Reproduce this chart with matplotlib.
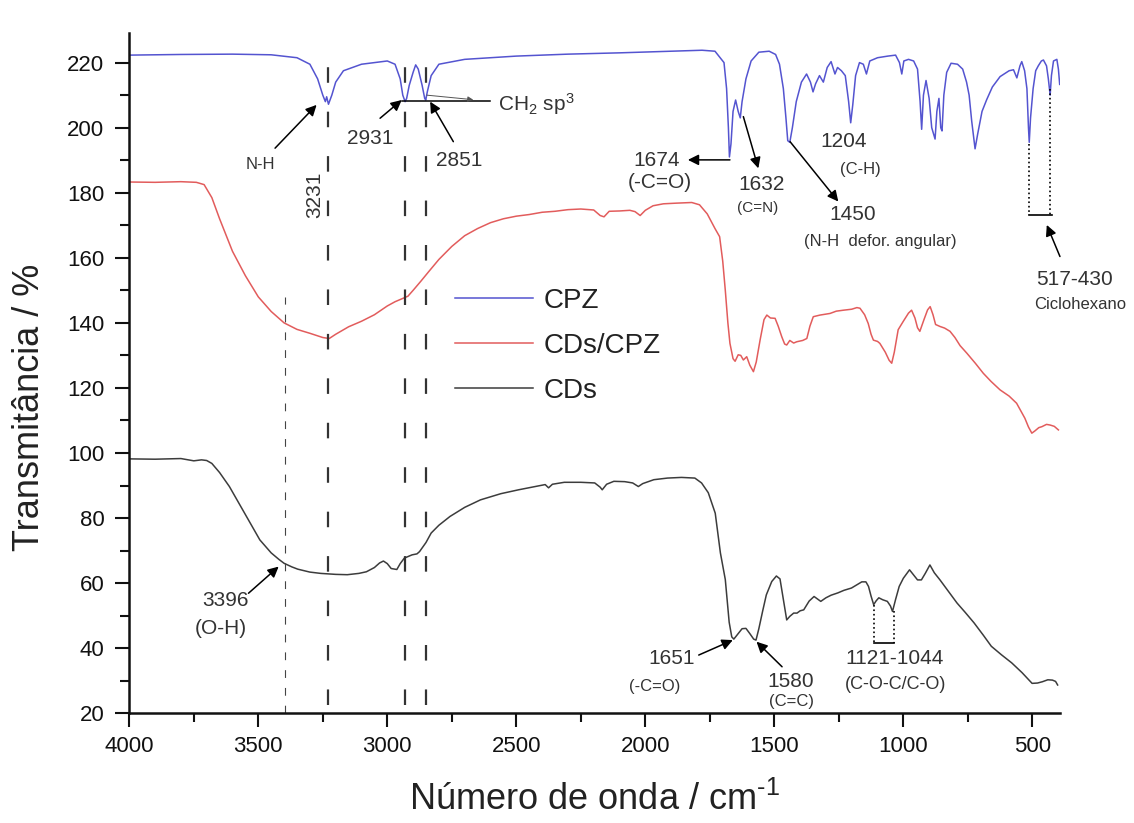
import matplotlib
matplotlib.use("Agg")
import matplotlib.pyplot as plt
import numpy as np

plt.rcParams['font.family'] = ['Liberation Sans', 'DejaVu Sans']
plt.rcParams['mathtext.fontset'] = 'custom'
plt.rcParams['mathtext.rm'] = 'Liberation Sans'
plt.rcParams['mathtext.it'] = 'Liberation Sans'
plt.rcParams['mathtext.bf'] = 'Liberation Sans:bold'

# ---------------- data ----------------
cpz_wn = [4000, 3800, 3600, 3450, 3350, 3300, 3270, 3250, 3240, 3235, 3228, 3215, 3200, 3170, 3100,
          3000, 2970, 2950, 2940, 2931, 2925, 2915, 2900, 2890, 2880, 2865, 2855, 2851, 2845, 2830,
          2800, 2700, 2500, 2300, 2100, 1900, 1780, 1730, 1710, 1695, 1685, 1678, 1674, 1668, 1660,
          1650, 1640, 1632, 1625, 1610, 1590, 1560, 1520, 1495, 1480, 1465, 1455, 1448, 1440, 1430,
          1415, 1395, 1375, 1360, 1350, 1340, 1325, 1310, 1295, 1280, 1265, 1255, 1240, 1225, 1212,
          1204, 1196, 1185, 1170, 1155, 1143, 1130, 1100, 1060, 1030, 1015, 1006, 998, 980, 960,
          945, 935, 929, 922, 912, 900, 890, 877, 870, 862, 855, 850, 843, 832, 815,
          790, 770, 755, 745, 735, 722, 712, 695, 677, 655, 625, 590, 573, 560, 548,
          541, 530, 521, 515, 512, 507, 497, 487, 477, 465, 457, 445, 438, 431, 426,
          418, 405, 399, 394]
cpz_t = [222.3, 222.5, 222.6, 222.4, 221.5, 219.5, 215, 210, 208, 209.5, 207.2, 210, 214, 217.5, 219.5,
         220.5, 219.5, 215, 210, 208, 209, 213, 217, 219.3, 218, 213, 209, 208.5, 211, 216,
         219.5, 221, 222, 222.6, 223, 223.5, 223.8, 223.5, 221.5, 220, 212, 200, 191, 195, 205,
         208.5, 205, 203, 208, 215, 220.5, 223.2, 223.5, 222.5, 219.5, 212, 203, 196, 195.5, 200,
         208, 214, 216.5, 214, 211, 213.5, 216, 214, 218.5, 220.3, 216.5, 218.5, 217.5, 216, 208,
         201.5, 207, 216, 220, 219.5, 216.5, 220.5, 221.5, 222, 222.3, 220, 216.5, 220.5, 221, 220.5,
         218, 208, 199.5, 210, 214.5, 209, 200, 196.5, 205, 209, 200, 199, 210, 217, 219.8,
         219.5, 218, 214, 210, 202, 193.5, 198, 205, 208.6, 212.5, 215.7, 217.5, 217.8, 215.3, 219,
         220.3, 217.5, 212, 200, 195.5, 203, 212, 217.5, 219, 220.5, 220.8, 219, 215, 210, 216,
         220.5, 221, 218, 213.3]

cdscpz_wn = [4000, 3900, 3800, 3740, 3710, 3680, 3650, 3600, 3550, 3500, 3450, 3400, 3350, 3300, 3250,
             3225, 3200, 3150, 3100, 3050, 3000, 2970, 2940, 2920, 2900, 2870, 2840, 2800, 2750, 2700,
             2650, 2600, 2550, 2500, 2450, 2400, 2350, 2300, 2250, 2200, 2175, 2160, 2140, 2100, 2060,
             2040, 2020, 2000, 1970, 1930, 1880, 1820, 1790, 1760, 1730, 1712, 1700, 1690, 1680, 1672,
             1660, 1652, 1640, 1630, 1620, 1607, 1595, 1581, 1570, 1555, 1540, 1529, 1515, 1497, 1485,
             1471, 1460, 1452, 1440, 1425, 1413, 1390, 1374, 1362, 1349, 1323, 1300, 1284, 1260, 1232,
             1200, 1180, 1168, 1150, 1136, 1125, 1116, 1100, 1091, 1070, 1055, 1045, 1035, 1020, 1000,
             980, 968, 955, 945, 936, 920, 906, 896, 885, 875, 858, 840, 819, 800, 780,
             754, 720, 690, 660, 625, 590, 561, 545, 529, 515, 502, 490, 475, 463, 445,
             431, 415, 399]
cdscpz_t = [183.3, 183.2, 183.4, 183.2, 182.5, 178.5, 172, 162, 154.5, 148, 143.5, 140, 138, 136.8, 135.5,
            135.2, 136.5, 138.8, 140.5, 142.5, 145.2, 146.5, 147.5, 148.2, 150, 152.8, 155.7, 159.5, 163.5, 166.8,
            169, 170.8, 172, 172.8, 173.3, 174, 174.3, 174.8, 175, 174.7, 173, 172.6, 174.3, 174.4, 174.6,
            174.2, 173, 174.6, 176, 176.6, 176.8, 177, 176.3, 173.5, 169, 166.5, 159, 150, 140, 133.7,
            129, 128.2, 130.2, 130, 128.6, 129.6, 127, 125, 128, 134.8, 141, 142.4, 141.5, 141.4, 139,
            135.7, 133.5, 133.2, 134.6, 133.8, 134.2, 134.6, 135.2, 139, 141.9, 142.4, 142.7, 142.9, 143.6, 143.9,
            144.2, 144.7, 144.5, 142.5, 139.8, 136.5, 134.7, 134.3, 133.7, 131, 128.5, 127.6, 131, 137.9, 140.5,
            143, 143.9, 141.5, 138.5, 137.4, 141, 144, 145, 142.5, 139.5, 138.9, 138.4, 137.4, 135.5, 133,
            130.7, 127.5, 124.5, 122, 119.4, 117.5, 115.3, 113, 110.7, 108, 106.1, 106.8, 107.8, 108.1, 108.8,
            108.6, 108.2, 107.1]

cds_wn = [4000, 3900, 3800, 3750, 3720, 3700, 3680, 3650, 3612, 3553, 3494, 3450, 3420, 3400, 3370,
          3347, 3300, 3258, 3200, 3155, 3110, 3081, 3050, 3030, 3015, 3000, 2985, 2963, 2950, 2934,
          2904, 2885, 2875, 2850, 2830, 2800, 2757, 2700, 2639, 2560, 2491, 2420, 2388, 2375, 2360,
          2314, 2250, 2196, 2175, 2167, 2150, 2122, 2080, 2049, 2027, 2010, 1967, 1914, 1860, 1808,
          1782, 1756, 1729, 1709, 1690, 1675, 1665, 1657, 1640, 1625, 1610, 1595, 1580, 1571, 1560,
          1545, 1531, 1510, 1492, 1478, 1465, 1452, 1440, 1425, 1412, 1400, 1386, 1365, 1346, 1330,
          1320, 1300, 1280, 1254, 1230, 1201, 1180, 1161, 1145, 1135, 1125, 1115, 1105, 1095, 1080,
          1062, 1050, 1042, 1030, 1016, 1000, 976, 955, 945, 930, 915, 897, 880, 858, 830,
          792, 760, 726, 690, 659, 620, 580, 540, 501, 480, 461, 440, 422, 410, 402]
cds_t = [98.2, 98.1, 98.3, 97.6, 97.9, 97.7, 96.8, 94, 89.7, 81.5, 73.3, 69.3, 67.3, 66.1, 65,
         64.3, 63.4, 63, 62.7, 62.6, 63, 63.5, 64.8, 66.2, 66.8, 66, 64.5, 64.2, 66, 67.7,
         68.7, 69, 69.7, 72.5, 75.4, 77.8, 80.5, 83.3, 85.6, 87.5, 88.7, 89.8, 90.3, 89.3, 90.4,
         91, 91, 90.8, 89.5, 88.7, 90.4, 91.3, 91.2, 90.8, 89.7, 90.6, 91.8, 92.3, 92.5, 92.3,
         90.8, 87.8, 81.5, 69.3, 61.1, 48, 43.5, 42.8, 44.5, 46, 46.1, 44.5, 42.8, 42.5, 46,
         51.5, 56.4, 60.5, 62.2, 61.3, 55, 48.7, 49.8, 50.8, 50.8, 51.5, 51.8, 54.5, 55.9, 55,
         54.4, 55.5, 56.3, 57, 57.8, 58.5, 59.5, 60.4, 60.4, 59, 56, 53.4, 54.6, 55.5, 54.9,
         54.4, 53, 51.3, 55, 59, 61.5, 64.1, 62, 61, 61, 63, 65.6, 63.2, 61, 58,
         53.9, 51, 47.8, 44, 40.6, 38, 35.5, 32.5, 29.2, 29.3, 29.7, 30.3, 30.2, 29.8, 28.7]

series_labels = ['CPZ', 'CDs/CPZ', 'CDs']
marked_bands = [3231, 2931, 2851]
oh_band = 3396
x_ticks = [4000, 3500, 3000, 2500, 2000, 1500, 1000, 500]
y_ticks = [20, 40, 60, 80, 100, 120, 140, 160, 180, 200, 220]

# ---------------- figure ----------------
fig = plt.figure(figsize=(11.34, 8.23), dpi=100)
ax = fig.add_axes([0.1140, 0.1333, 0.8207, 0.8270])

c_blue = '#5454d0'
c_red = '#e25c5c'
c_black = '#3c3c3c'
tcol = '#333333'

ax.plot(cpz_wn, cpz_t, color=c_blue, lw=1.1, label=series_labels[0])
ax.plot(cdscpz_wn, cdscpz_t, color=c_red, lw=1.1, label=series_labels[1])
ax.plot(cds_wn, cds_t, color=c_black, lw=1.1, label=series_labels[2])

# dashed guide lines
for b in marked_bands:
    ax.plot([b, b], [22.5, 226.5], color='#333333', lw=1.6, ls=(0, (7, 13)))
ax.plot([oh_band, oh_band], [20, 148], color='#444444', lw=0.8, ls=(0, (7, 9)))

ax.set_xlim(4000, 393)
ax.set_ylim(20, 229.2)
ax.set_xticks(x_ticks)
ax.set_yticks(y_ticks)
ax.set_xticks(np.arange(3750, 393, -500), minor=True)
ax.set_yticks(np.arange(30, 229, 20), minor=True)

for s in ['top', 'right']:
    ax.spines[s].set_visible(False)
for s in ['left', 'bottom']:
    ax.spines[s].set_linewidth(1.8)
    ax.spines[s].set_color('#111111')
ax.tick_params(which='major', direction='out', length=10, width=1.5, labelsize=16, pad=6, colors='#111111')
ax.tick_params(which='minor', direction='out', length=6.5, width=1.5, colors='#111111')
ax.tick_params(axis='y', which='major', pad=8)

ax.set_xlabel('Número de onda / cm$^{\\text{-1}}$', fontsize=26, color='#222222')
ax.set_ylabel('Transmitância / %', fontsize=26, color='#222222')
ax.xaxis.set_label_coords(0.5, -0.100)
ax.yaxis.set_label_coords(-0.088, 0.45)

leg = ax.legend(loc='upper left', bbox_to_anchor=(0.35, 0.625), frameon=False, fontsize=20,
                handlelength=2.8, handletextpad=0.4, labelspacing=0.68, borderpad=0, borderaxespad=0)
for t in leg.get_texts():
    t.set_color('#222222')

# ---------------- annotations ----------------
arrow = dict(arrowstyle='-|>', color='black', lw=1.1, mutation_scale=16, shrinkA=0, shrinkB=0)

def label(x, y, s, fs=15, **kw):
    ax.text(x, y, s, fontsize=fs, color=tcol, ha='center', va='center', clip_on=False, **kw)

def arr(tail, head):
    ax.annotate('', xy=head, xytext=tail, arrowprops=arrow, annotation_clip=False)

label(3490, 188.6, 'N-H', fs=12)
arr((3435, 193.7), (3274, 207))
label(3280, 179.3, '3231', rotation=90)
label(3067, 196.8, '2931')
arr((3028, 202.9), (2944, 208.5))
label(2722, 190.0, '2851')
arr((2744, 195.7), (2834, 208))
ax.plot([2944, 2602], [208.3, 208.3], color='black', lw=1.1)
ax.annotate('', xy=(2667, 208.6), xytext=(2847, 210),
            arrowprops=dict(arrowstyle='-|>', color='#555555', lw=0.7, mutation_scale=8, shrinkA=0, shrinkB=0))
ax.text(2571, 207.2, 'CH$_2$ sp$^3$', fontsize=15, color=tcol, ha='left', va='center')

label(1955, 190.0, '1674')
label(1943, 183.2, '(-C=O)')
arr((1672, 190.1), (1835, 190.1))
label(1548, 182.4, '1632')
label(1563, 175.2, '(C=N)', fs=11)
arr((1620, 203.4), (1562, 187.5))
label(1232, 195.7, '1204')
label(1168, 187.0, '(C-H)', fs=12)
label(1197, 173.2, '1450')
label(1090, 165.0, '(N-H  defor. angular)', fs=12)
arr((1439, 195.7), (1252, 177.3))

ax.plot([512, 512], [195, 173.2], color='black', lw=1.2, ls=':')
ax.plot([431, 431], [212, 173.2], color='black', lw=1.2, ls=':')
ax.plot([512, 425], [173.2, 173.2], color='black', lw=1.2)
arr((393, 160.4), (444, 170.1))
label(338, 153.2, '517-430')
label(315, 145.5, 'Ciclohexano', fs=12)

label(3627, 54.8, '3396')
label(3645, 46.1, '(O-H)')
arr((3538, 56.9), (3421, 65.1))
label(1899, 36.9, '1651')
label(1965, 28.2, '(-C=O)', fs=12)
arr((1793, 37.9), (1661, 42.5))
label(1437, 29.7, '1580')
label(1433, 23.6, '(C=C)', fs=12)
arr((1470, 34.3), (1569, 42))
ax.plot([1115, 1115], [53.4, 41.5], color='black', lw=1.2, ls=':')
ax.plot([1036, 1036], [51.3, 41.5], color='black', lw=1.2, ls=':')
ax.plot([1115, 1036], [41.5, 41.5], color='black', lw=1.2)
label(1035, 36.9, '1121-1044')
label(1029, 28.7, '(C-O-C/C-O)', fs=13)

fig.savefig('out.png', dpi=100, facecolor='white')
